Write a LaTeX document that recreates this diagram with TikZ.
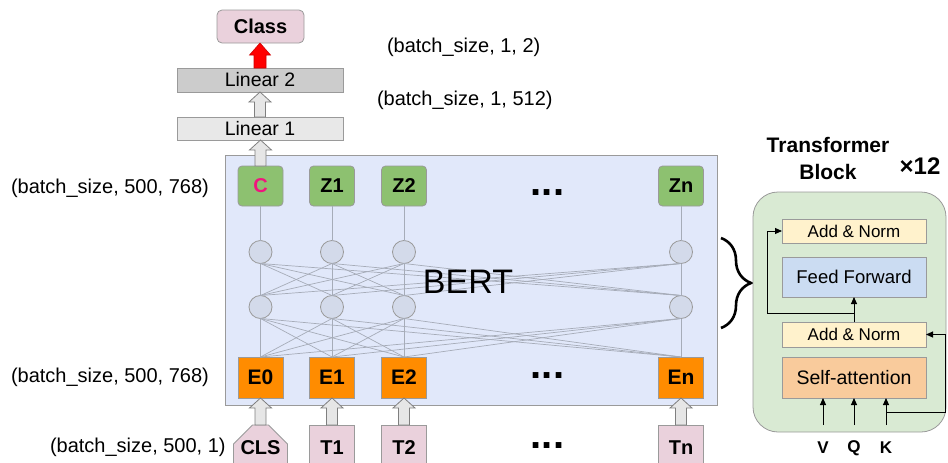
\documentclass[tikz,border=0pt]{standalone}
\usepackage{fontspec}
\setmainfont{Liberation Sans}
\usetikzlibrary{calc,decorations.pathreplacing,arrows.meta,shapes.misc}
\definecolor{bordergray}{HTML}{9A9A9A}
\definecolor{wirec}{HTML}{A6ACB8}
\definecolor{bertbg}{HTML}{E1E8FA}
\definecolor{circfill}{HTML}{D3DAEA}
\definecolor{zgreen}{HTML}{8DC170}
\definecolor{eorange}{HTML}{FF8C00}
\definecolor{pinkc}{HTML}{EAD1DC}
\definecolor{lintwo}{HTML}{CCCCCC}
\definecolor{linone}{HTML}{E8E8E8}
\definecolor{tbgreen}{HTML}{D9EAD3}
\definecolor{addnorm}{HTML}{FFF2CC}
\definecolor{ffblue}{HTML}{CBDCF2}
\definecolor{saorange}{HTML}{F9CB9C}
\definecolor{magc}{HTML}{F0157E}
\definecolor{harrowfill}{HTML}{E6E6E6}
\definecolor{harrowdraw}{HTML}{7F7F7F}
\newcommand{\fsz}[1]{\fontsize{#1}{#1}\selectfont}
\newcommand{\blockarrow}[3][harrow]{%
  \draw[#1] let \p1=(#2), \p2=(#3) in
    (\x1-5.5pt,\y1) -- (\x1-5.5pt,\y2-10pt) -- (\x1-11pt,\y2-10pt) -- (\x1,\y2)
    -- (\x1+11pt,\y2-10pt) -- (\x1+5.5pt,\y2-10pt) -- (\x1+5.5pt,\y1) -- cycle;}
\begin{document}
\begin{tikzpicture}[x=1pt,y=-1pt,
  every node/.style={inner sep=0pt, outer sep=0pt},
  lbl/.style={font=\fsz{20}},
  zbox/.style={draw=bordergray, line width=0.8pt, fill=zgreen, rounded corners=4pt, minimum width=45pt, minimum height=40pt, font=\fsz{20}\bfseries},
  ebox/.style={draw=bordergray, line width=0.8pt, fill=eorange, minimum width=45pt, minimum height=41pt, font=\fsz{21}\bfseries},
  tbox/.style={draw=bordergray, line width=0.8pt, fill=pinkc, minimum width=45pt, minimum height=45pt, font=\fsz{20}\bfseries},
  circ/.style={circle, draw=bordergray, line width=0.8pt, fill=circfill, minimum size=23pt},
  wire/.style={draw=wirec, line width=0.7pt},
  linbox/.style={draw=bordergray, line width=0.8pt, minimum width=166pt, font=\fsz{19.5}},
  innerbox/.style={draw=bordergray, line width=0.8pt, minimum width=144pt},
  harrow/.style={draw=harrowdraw, fill=harrowfill, line width=0.8pt, line join=miter},
  redarrow/.style={draw=red!80!black, fill=red, line width=0.6pt},
  arr/.style={draw=black, line width=0.9pt, -{Triangle[length=7pt,width=6pt]}},
  dots/.style={font=\fsz{40}\bfseries, anchor=base}
]
\useasboundingbox (0,0) rectangle (948,463);

% top head
\node[draw=bordergray, line width=0.8pt, fill=pinkc, rounded corners=5pt, minimum width=87pt, minimum height=33pt, font=\fsz{20}\bfseries] (class) at (260.5,26.5) {Class};
\node[linbox, fill=lintwo, minimum height=24pt] (lin2) at (260,80) {Linear 2};
\node[linbox, fill=linone, minimum height=23pt] (lin1) at (260,128.5) {Linear 1};
\node[lbl, anchor=west] (s2) at (387,47) {(batch\_size, 1, 2)};
\node[lbl, anchor=west] (s512) at (377,100) {(batch\_size, 1, 512)};

% BERT box
\node[draw=bordergray, line width=0.8pt, fill=bertbg, minimum width=492pt, minimum height=250pt] (bert) at (471,280) {};

% columns
\foreach \i/\x/\zt/\et in {0/260.5/\textcolor{magc}{C}/E0, 1/332/Z1/E1, 2/404/Z2/E2, 3/681/Zn/En}{
  \node[zbox] (z\i) at (\x,186) {\zt};
  \node[circ] (u\i) at (\x,252) {};
  \node[circ] (l\i) at (\x,307) {};
  \node[ebox] (e\i) at (\x,377.5) {\et};
}
\node[tbox, chamfered rectangle, chamfered rectangle corners={north west,north east}, chamfered rectangle xsep=10pt, chamfered rectangle ysep=12pt, minimum height=45pt, minimum width=45pt] (t0) at (260.5,447.5) {CLS};
\node[tbox] (t1) at (332,447.5) {T1};
\node[tbox] (t2) at (404,447.5) {T2};
\node[tbox] (t3) at (681,447.5) {Tn};

% wires
\foreach \i in {0,1,2,3}{
  \draw[wire] (z\i.south) -- (u\i.north);
  \foreach \j in {0,1,2,3}{
    \draw[wire] (u\i.south) -- (l\j.north);
    \draw[wire] (l\i.south) -- (e\j.north);
  }
}
\node[font=\fsz{34}] (berttxt) at (468,282) {BERT};

% dots
\node[dots] (d1) at (547.5,195) {...};
\node[dots] (d2) at (547.5,378) {...};
\node[dots] (d3) at (547.5,448) {...};

% left labels
\node[lbl, anchor=west] (sz1) at (11,188) {(batch\_size, 500, 768)};
\node[lbl, anchor=west] (sz2) at (11,377) {(batch\_size, 500, 768)};
\node[lbl, anchor=west] (sz3) at (50,447) {(batch\_size, 500, 1)};

% block arrows
\blockarrow{z0.north}{lin1.south}
\blockarrow{lin1.north}{lin2.south}
\draw[redarrow] let \p1=(lin2.north), \p2=(class.south) in
    (\x1-6pt,\y1) -- (\x1-6pt,\y2-12pt) -- (\x1-10.5pt,\y2-12pt) -- (\x1,\y2)
    -- (\x1+10.5pt,\y2-12pt) -- (\x1+6pt,\y2-12pt) -- (\x1+6pt,\y1) -- cycle;
\foreach \i in {0,1,2,3}{ \blockarrow{t\i.north}{e\i.south} }

% brace
\draw[line width=2.6pt, decorate, decoration={brace, amplitude=30pt, aspect=0.5}] (721,238) -- (721,328);

% transformer block
\node[font=\fsz{21}\bfseries, align=center] (tbtitle) at (828,158.5) {Transformer\\[6pt]Block};
\node[font=\fsz{24}\bfseries] (x12) at (920,166) {×12};
\node[draw=bordergray, line width=0.8pt, fill=tbgreen, rounded corners=25pt, minimum width=193pt, minimum height=240pt] (tb) at (849.5,312) {};
\node[innerbox, fill=addnorm, minimum height=24pt, font=\fsz{17}] (an2) at (854,231) {Add \& Norm};
\node[innerbox, fill=ffblue, minimum height=40pt, font=\fsz{18.5}] (ff) at (854,277) {Feed Forward};
\node[innerbox, fill=addnorm, minimum height=25pt, font=\fsz{17}] (an1) at (854,334.5) {Add \& Norm};
\node[innerbox, fill=saorange, minimum height=41pt, font=\fsz{19.5}] (sa) at (854,377.5) {Self-attention};

\node[font=\fsz{17}\bfseries] (vl) at (823,448) {V};
\node[font=\fsz{17}\bfseries] (ql) at (854,448) {Q};
\node[font=\fsz{17}\bfseries] (kl) at (886,448) {K};
\coordinate (vs) at (823,425);
\coordinate (qs) at (854,425);
\coordinate (ks) at (886,425);
\draw[arr] (vs) -- (vs |- sa.south);
\draw[arr] (qs) -- (qs |- sa.south);
\draw[arr] (ks) -- (ks |- sa.south);
\coordinate (kb) at (886,412);
\coordinate (kr) at (945,412);
\draw[arr] (kb) -- (kr) |- (an1.east);
\draw[arr] (an1.north) -- (ff.south);
\coordinate (rb) at (854,313);
\coordinate (rl) at (767,313);
\draw[arr] (rb) -- (rl) |- (an2.west);
\end{tikzpicture}
\end{document}
